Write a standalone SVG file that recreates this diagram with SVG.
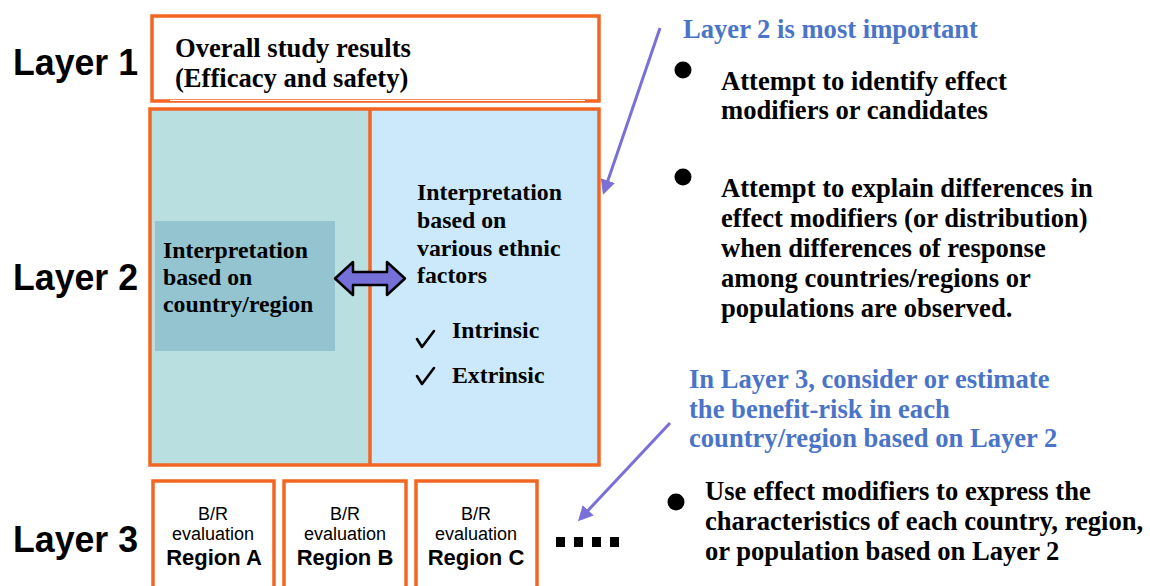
<svg xmlns="http://www.w3.org/2000/svg" width="1150" height="586" viewBox="0 0 1150 586">
  <defs>
    <style>
      .layer { font-family: "Liberation Sans", Arial, sans-serif; font-weight: bold; font-size: 36px; fill: #000; }
      .serif { font-family: "Liberation Serif", "Times New Roman", serif; font-weight: bold; fill: #000; }
      .big { font-size: 26.6px; }
      .mid { font-size: 23.8px; }
      .box { fill: #fff; stroke: #f26522; stroke-width: 3.5; }
      .sans { font-family: "Liberation Sans", Arial, sans-serif; fill: #000; text-anchor: middle; }
      .small { font-size: 18px; }
      .region { font-size: 22px; font-weight: bold; }
      .blue { fill: #4a74c8; }
      .link { stroke: #7b6fd8; stroke-width: 3; fill: none; }
      .tick { fill: none; stroke: #000; stroke-width: 2.6; stroke-linejoin: round; stroke-linecap: round; }
    </style>
    <marker id="arrow" viewBox="0 0 10 10" refX="8" refY="5" markerWidth="5" markerHeight="5" orient="auto">
      <path d="M0,0 L10,5 L0,10 Z" fill="#7b6fd8"/>
    </marker>
  </defs>

  <rect width="1150" height="586" fill="#fff"/>

  <!-- layer captions -->
  <text class="layer" x="13" y="75" textLength="125" lengthAdjust="spacingAndGlyphs">Layer 1</text>
  <text class="layer" x="13" y="290" textLength="125" lengthAdjust="spacingAndGlyphs">Layer 2</text>
  <text class="layer" x="13" y="552" textLength="125" lengthAdjust="spacingAndGlyphs">Layer 3</text>

  <!-- Layer 1 -->
  <g id="layer1">
    <rect class="box" x="152" y="16" width="447" height="85"/>
    <line x1="170" y1="100.5" x2="585" y2="100.5" stroke="#fff" stroke-width="1.2"/>
    <text class="serif big" x="175" y="57">Overall study results</text>
    <text class="serif big" x="175" y="87">(Efficacy and safety)</text>
  </g>

  <!-- Layer 2 -->
  <g id="layer2">
    <rect x="150" y="109" width="220" height="356" fill="#b9dfe1"/>
    <rect x="370" y="109" width="229" height="356" fill="#cce9fb"/>
    <rect x="150" y="109" width="449" height="356" fill="none" stroke="#f26522" stroke-width="3.5"/>
    <line x1="370" y1="109" x2="370" y2="465" stroke="#f26522" stroke-width="3.5"/>
  </g>

  <g id="country-region">
    <rect x="155" y="221" width="180" height="130" fill="#93c4cf"/>
    <text class="serif mid" x="163" y="258">Interpretation</text>
    <text class="serif mid" x="163" y="285">based on</text>
    <text class="serif mid" x="163" y="312">country/region</text>
  </g>

  <g id="ethnic-factors">
    <text class="serif mid" x="417" y="200">Interpretation</text>
    <text class="serif mid" x="417" y="228">based on</text>
    <text class="serif mid" x="417" y="256">various ethnic</text>
    <text class="serif mid" x="417" y="283">factors</text>
    <path class="tick" d="M417,339 L422,347 L434,331"/>
    <text class="serif mid" x="452" y="338">Intrinsic</text>
    <path class="tick" d="M417,376 L422,384 L434,368"/>
    <text class="serif mid" x="452" y="383">Extrinsic</text>
  </g>

  <!-- Layer 3 -->
  <g id="region-a">
    <rect class="box" x="153" y="481" width="121" height="110"/>
    <text class="sans small" x="213" y="520">B/R</text>
    <text class="sans small" x="213" y="540">evaluation</text>
    <text class="sans region" x="214" y="565">Region A</text>
  </g>
  <g id="region-b">
    <rect class="box" x="284" y="481" width="122" height="110"/>
    <text class="sans small" x="345" y="520">B/R</text>
    <text class="sans small" x="345" y="540">evaluation</text>
    <text class="sans region" x="345" y="565">Region B</text>
  </g>
  <g id="region-c">
    <rect class="box" x="416" y="481" width="121" height="110"/>
    <text class="sans small" x="476" y="520">B/R</text>
    <text class="sans small" x="476" y="540">evaluation</text>
    <text class="sans region" x="476" y="565">Region C</text>
  </g>
  <g id="more" fill="#000">
    <rect x="556" y="537" width="9" height="10"/>
    <rect x="574" y="537" width="9" height="10"/>
    <rect x="592" y="537" width="9" height="10"/>
    <rect x="610" y="537" width="9" height="10"/>
  </g>

  <!-- notes -->
  <g id="note-layer2">
    <text class="serif big blue" x="683" y="38">Layer 2 is most important</text>
    <circle cx="683" cy="70" r="8.5" fill="#000"/>
    <text class="serif big" x="721" y="90">Attempt to identify effect</text>
    <text class="serif big" x="721" y="119">modifiers or candidates</text>
    <circle cx="683" cy="177" r="8.5" fill="#000"/>
    <text class="serif big" x="721" y="197">Attempt to explain differences in</text>
    <text class="serif big" x="721" y="227">effect modifiers (or distribution)</text>
    <text class="serif big" x="721" y="257">when differences of response</text>
    <text class="serif big" x="721" y="287">among countries/regions or</text>
    <text class="serif big" x="721" y="317">populations are observed.</text>
  </g>

  <g id="note-layer3">
    <text class="serif big blue" x="689" y="388">In Layer 3, consider or estimate</text>
    <text class="serif big blue" x="689" y="418">the benefit-risk in each</text>
    <text class="serif big blue" x="689" y="447">country/region based on Layer 2</text>
    <circle cx="676" cy="502" r="8.5" fill="#000"/>
    <text class="serif big" x="705" y="500">Use effect modifiers to express the</text>
    <text class="serif big" x="705" y="530">characteristics of each country, region,</text>
    <text class="serif big" x="705" y="560">or population based on Layer 2</text>
  </g>

  <!-- connectors -->
  <g id="connectors">
    <path d="M335,278.5 L353,262 L353,272 L387,272 L387,262 L405,278.5 L387,295 L387,285 L353,285 L353,295 Z" fill="#7470d8" stroke="#000" stroke-width="2.5" stroke-linejoin="round"/>
    <line class="link" x1="660" y1="28" x2="604" y2="192" marker-end="url(#arrow)"/>
    <line class="link" x1="670" y1="423" x2="580" y2="519" marker-end="url(#arrow)"/>
  </g>
</svg>
